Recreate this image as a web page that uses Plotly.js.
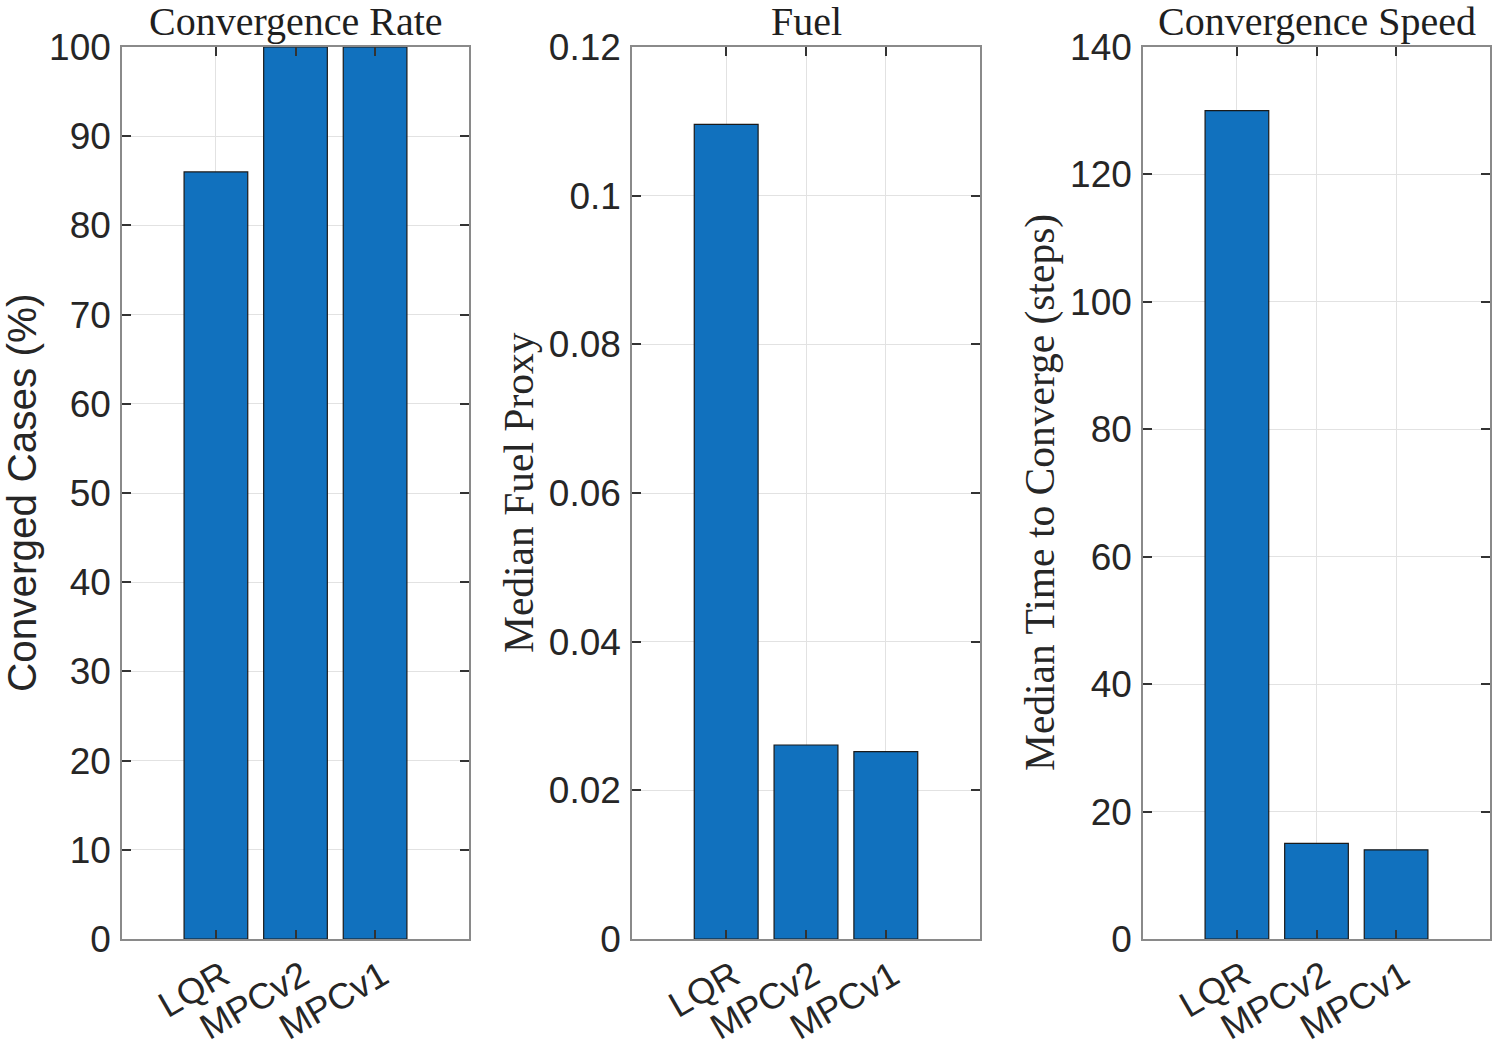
<!DOCTYPE html>
<html>
<head>
<meta charset="utf-8">
<script src="https://cdn.plot.ly/plotly-3.0.1.min.js"></script>
<style>html,body{margin:0;padding:0;background:#fff;}#chart{width:1494px;height:1046px;}</style>
</head>
<body>
<div id="chart"></div>
<script>
// ---- data ----
const categories = ["LQR", "MPCv2", "MPCv1"];
const convergenceRate = [86, 100, 100];
const fuelProxy = [0.1096, 0.0261, 0.0252];
const timeToConverge = [130, 15, 14];

const panelTitles = ["Convergence Rate", "Fuel", "Convergence Speed"];
const yTitles = ["Converged Cases (%)", "Median Fuel Proxy", "Median Time to Converge (steps)"];

const yTicks1 = [0, 10, 20, 30, 40, 50, 60, 70, 80, 90, 100];
const yTickText1 = ["0", "10", "20", "30", "40", "50", "60", "70", "80", "90", "100"];
const yTicks2 = [0, 0.02, 0.04, 0.06, 0.08, 0.1, 0.12];
const yTickText2 = ["0", "0.02", "0.04", "0.06", "0.08", "0.1", "0.12"];
const yTicks3 = [0, 20, 40, 60, 80, 100, 120, 140];
const yTickText3 = ["0", "20", "40", "60", "80", "100", "120", "140"];

// ---- styling ----
const W = 1494, H = 1046;
const barColor = "#1171BE";
const sans = "Liberation Sans, Arial, sans-serif";
const serif = "Liberation Serif, Times New Roman, serif";
const txt = "#262626";

const xDomains = [[122 / W, 469 / W], [632 / W, 980 / W], [1143 / W, 1490 / W]];
const yDomain = [1 - 939 / H, 1 - 47 / H];

function barTrace(vals, idx) {
  const s = idx === 0 ? "" : String(idx + 1);
  return {
    type: "bar",
    x: categories,
    y: vals,
    xaxis: "x" + s,
    yaxis: "y" + s,
    width: 0.8,
    marker: { color: barColor, line: { color: "#1a1a1a", width: 1.2 } },
    hoverinfo: "x+y",
    showlegend: false
  };
}

function xAxis(idx) {
  const s = idx === 0 ? "" : String(idx + 1);
  return {
    domain: xDomains[idx],
    anchor: "y" + s,
    type: "category",
    categoryorder: "array",
    categoryarray: categories,
    range: [-1.18, 3.18],
    showline: true, linecolor: "#8a8a8a", linewidth: 1.5, mirror: "ticks",
    ticks: "inside", ticklen: 9, tickwidth: 1.5, tickcolor: "#333333",
    showgrid: true, gridcolor: "#e2e2e2", gridwidth: 1.2,
    tickangle: -30,
    ticklabelshift: 7,
    tickfont: { family: sans, size: 36, color: txt },
    zeroline: false, fixedrange: true
  };
}

function yAxis(idx, range, tv, tt) {
  const s = idx === 0 ? "" : String(idx + 1);
  return {
    domain: yDomain,
    anchor: "x" + s,
    range: range,
    tickvals: tv, ticktext: tt,
    showline: true, linecolor: "#8a8a8a", linewidth: 1.5, mirror: "ticks",
    ticks: "inside", ticklen: 9, tickwidth: 1.5, tickcolor: "#333333",
    showgrid: true, gridcolor: "#e2e2e2", gridwidth: 1.2,
    ticklabelstandoff: 2,
    tickfont: { family: sans, size: 37, color: txt },
    zeroline: false, fixedrange: true
  };
}

const data = [barTrace(convergenceRate, 0), barTrace(fuelProxy, 1), barTrace(timeToConverge, 2)];

const annotations = [];
panelTitles.forEach((t, i) => {
  annotations.push({
    text: t, xref: "paper", yref: "paper",
    x: (xDomains[i][0] + xDomains[i][1]) / 2, y: 1 - 21 / H,
    xanchor: "center", yanchor: "middle", showarrow: false, borderpad: 0,
    font: { family: serif, size: 40, color: "#1f1f1f" }
  });
});
const yTitleX = [22 / W, 519 / W, 1040 / W];
const yTitleFonts = [sans, serif, serif];
yTitles.forEach((t, i) => {
  annotations.push({
    text: t, xref: "paper", yref: "paper",
    x: yTitleX[i], y: (yDomain[0] + yDomain[1]) / 2,
    xanchor: "center", yanchor: "middle", showarrow: false, textangle: -90, borderpad: 0,
    font: { family: yTitleFonts[i], size: i === 0 ? 40.5 : 41.5, color: txt }
  });
});

const layout = {
  width: W, height: H,
  margin: { l: 0, r: 0, t: 0, b: 0 },
  paper_bgcolor: "#ffffff", plot_bgcolor: "#ffffff",
  bargap: 0.2,
  xaxis: xAxis(0), xaxis2: xAxis(1), xaxis3: xAxis(2),
  yaxis: yAxis(0, [0, 100], yTicks1, yTickText1),
  yaxis2: yAxis(1, [0, 0.12], yTicks2, yTickText2),
  yaxis3: yAxis(2, [0, 140], yTicks3, yTickText3),
  annotations: annotations
};

Plotly.newPlot("chart", data, layout, { displayModeBar: false });
</script>
</body>
</html>
